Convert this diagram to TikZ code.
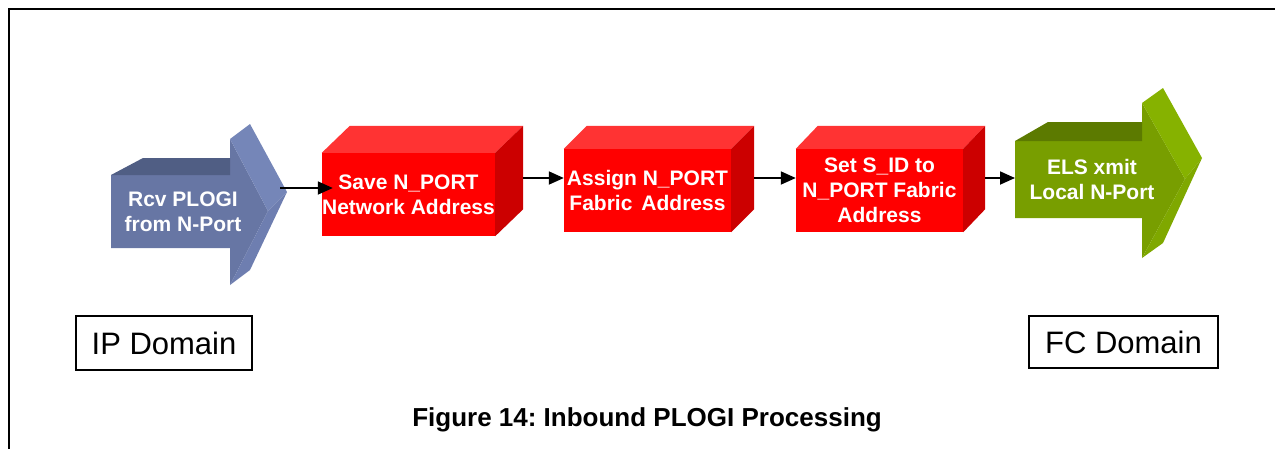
\documentclass[tikz,border=0pt]{standalone}
\usepackage{fontspec}
\setmainfont{Liberation Sans}
\usetikzlibrary{arrows.meta,calc}
\frenchspacing

\definecolor{blueFront}{RGB}{103,118,164}
\definecolor{blueTop}{RGB}{80,94,132}
\definecolor{blueSide}{RGB}{117,134,184}
\definecolor{blueLow}{RGB}{110,126,176}
\definecolor{redFront}{RGB}{255,0,0}
\definecolor{redTop}{RGB}{255,51,51}
\definecolor{redSide}{RGB}{204,0,0}
\definecolor{greenFront}{RGB}{120,158,0}
\definecolor{greenTop}{RGB}{92,122,0}
\definecolor{greenSide}{RGB}{134,178,0}
\definecolor{greenLow}{RGB}{127,168,0}

% extruded red block: name, centre, width, height, depth offset, text
\newcommand\redblock[6]{%
  \node[redface, minimum width=#3, minimum height=#4] (#1) at #2 {#6};
  \fill[redTop] (#1.north west) -- ++#5 -- ($(#1.north east)+#5$) -- (#1.north east) -- cycle;
  \fill[redSide] (#1.north east) -- ++#5 -- ($(#1.south east)+#5$) -- (#1.south east) -- cycle;
  \coordinate (#1-back) at ($(#1.east)+#5$);
}

\begin{document}
\begin{tikzpicture}[x=1pt,y=-1pt,
  lbl/.style={text=white, font=\bfseries\fontsize{21}{25}\selectfont, align=center, inner sep=0pt},
  redface/.style={lbl, fill=redFront},
  conn/.style={line width=1.8pt, -{Triangle[length=15pt,width=13pt]}},
  domainbox/.style={draw, line width=1.5pt, font=\fontsize{31}{36}\selectfont, inner sep=0pt},
  captext/.style={font=\bfseries\fontsize{26}{30}\selectfont, inner sep=0pt}]
\useasboundingbox (0,0) rectangle (1275,448);

% frame
\draw[line width=2pt] (9,460) -- (9,9) -- (1285,9);

% incoming arrow (IP side)
\fill[blueFront] (111,175) -- (230,175) -- (230,139) -- (268,211) -- (230,285) -- (230,248) -- (111,248) -- cycle;
\fill[blueTop] (111,175) -- (143,158) -- (230,158) -- (230,175) -- cycle;
\fill[blueSide] (230,139) -- (250,124) -- (287,192) -- (268,211) -- cycle;
\fill[blueLow] (268,211) -- (287,192) -- (250,270) -- (230,285) -- cycle;
\node[lbl] (rcv) at (183,212) {Rcv PLOGI\\from N-Port};
\coordinate (rcvout) at (280,188);

% processing steps
\redblock{b1}{(408.5,194.5)}{173pt}{83pt}{(28,-27)}{Save N\_PORT\\Network Address}
\redblock{b2}{(647.5,190.5)}{167pt}{83pt}{(23,-23)}{Assign N\_PORT\\Fabric\hspace{9pt}Address}
\redblock{b3}{(879.5,190.5)}{167pt}{83pt}{(22,-23)}{Set S\_ID to\\N\_PORT Fabric\\Address}

% outgoing arrow (FC side)
\fill[greenFront] (1015,141) -- (1142,141) -- (1142,103) -- (1185,179) -- (1142,258) -- (1142,218) -- (1015,218) -- cycle;
\fill[greenTop] (1015,141) -- (1048,122) -- (1142,122) -- (1142,141) -- cycle;
\fill[greenSide] (1142,103) -- (1163,88) -- (1202,158) -- (1185,179) -- cycle;
\fill[greenLow] (1185,179) -- (1202,158) -- (1163,243) -- (1142,258) -- cycle;
\node[lbl] (els) at (1092,179) {ELS xmit\\Local N-Port};
\coordinate (elsin) at (1015,178);

% connectors
\path (rcvout -| b1.west) ++(11,0) coordinate (a1);
\coordinate (a2) at ($(b2.west)+(0,-12.5)$);
\coordinate (a3) at ($(b3.west)+(0,-12.5)$);
\draw[conn] (rcvout) -- (a1);
\draw[conn] (a2 -| b1-back) -- (a2);
\draw[conn] (a3 -| b2-back) -- (a3);
\draw[conn] (elsin -| b3-back) -- (elsin);

% domain labels
\node[domainbox, minimum width=176pt, minimum height=54pt] (ipd) at (164,343) {IP Domain};
\node[domainbox, minimum width=189pt, minimum height=52pt] (fcd) at (1123.5,342) {FC Domain};

% caption
\node[captext, anchor=base] (cap) at (647,426) {Figure 14: Inbound PLOGI Processing};
\end{tikzpicture}
\end{document}
